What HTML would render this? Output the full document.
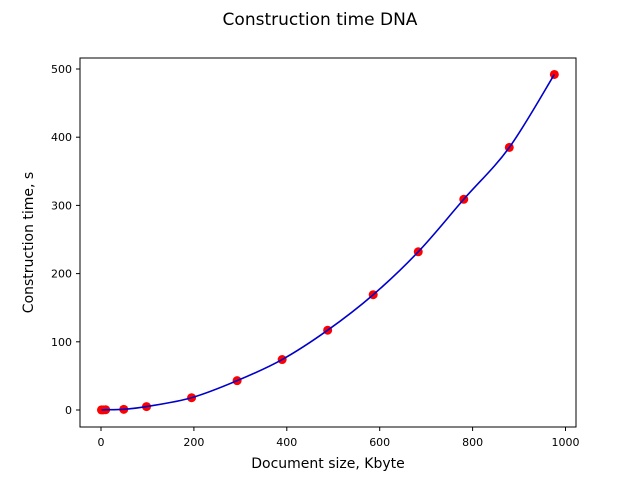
<!DOCTYPE html>
<html><head><meta charset="utf-8"><style>
body{margin:0;background:#fff;font-family:"Liberation Sans","DejaVu Sans",sans-serif;}
</style></head><body>
<svg id="chart" width="640" height="480" xmlns="http://www.w3.org/2000/svg">
<text x="320" y="25" text-anchor="middle" font-size="17" font-family="DejaVu Sans, sans-serif">Construction time DNA</text>
<g id="plot"></g>
<rect x="80" y="58" width="496" height="369" fill="none" stroke="#000" stroke-width="1"/>
<text x="328" y="468" text-anchor="middle" font-size="14" font-family="DejaVu Sans, sans-serif">Document size, Kbyte</text>
<text transform="translate(33,242.5) rotate(-90)" text-anchor="middle" font-size="14" font-family="DejaVu Sans, sans-serif">Construction time, s</text>
</svg>
<script>
const sizes=[1,5,10,49,98,195,293,390,488,586,683,781,879,976];
const times=[0.1,0.2,0.4,1,5,18,43,74,117,169,232,309,385,492];
const xTicks=[0,200,400,600,800,1000];
const yTicks=[0,100,200,300,400,500];
const NS="http://www.w3.org/2000/svg";
const g=document.getElementById('plot');
const X=v=>101+v*0.4645;
const Y=v=>410-v*0.682;
function mk(t,a){const e=document.createElementNS(NS,t);for(const k in a)e.setAttribute(k,a[k]);g.appendChild(e);return e;}
xTicks.forEach(t=>{
 const l=mk('line',{x1:X(t),x2:X(t),y1:427,y2:431,stroke:'#000'});
 
 
 const tx=mk('text',{x:X(t),y:446,'text-anchor':'middle','font-size':11,'font-family':'DejaVu Sans, sans-serif'});
 tx.textContent=t;
 
 
});
yTicks.forEach(t=>{
 const l=mk('line',{x1:76,x2:80,y1:Y(t),y2:Y(t),stroke:'#000'});
 
 
 const tx=mk('text',{x:72,y:Y(t)+4,'text-anchor':'end','font-size':11,'font-family':'DejaVu Sans, sans-serif'});
 tx.textContent=t;
 
 
});
const pts=sizes.map((s,i)=>[X(s),Y(times[i])]);
let d='M'+pts[0][0]+','+pts[0][1];
for(let i=0;i<pts.length-1;i++){
 const p0=pts[Math.max(0,i-1)],p1=pts[i],p2=pts[i+1],p3=pts[Math.min(pts.length-1,i+2)];
 const c1=[p1[0]+(p2[0]-p0[0])/6,p1[1]+(p2[1]-p0[1])/6];
 const c2=[p2[0]-(p3[0]-p1[0])/6,p2[1]-(p3[1]-p1[1])/6];
 d+=` C${c1[0]},${c1[1]} ${c2[0]},${c2[1]} ${p2[0]},${p2[1]}`;
}
pts.forEach((p,i)=>{
 const c=mk('circle',{cx:p[0],cy:p[1],r:4.5,fill:'#ff0000'});
 
 
});
const path=mk('path',{d:d,fill:'none',stroke:'#0000cc','stroke-width':1.6});


</script>
</body></html>
